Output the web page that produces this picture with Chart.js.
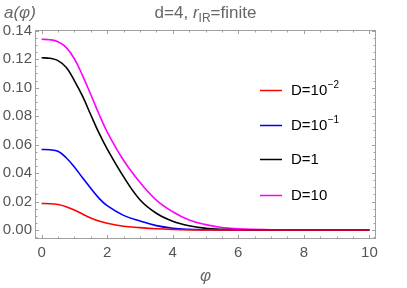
<!DOCTYPE html>
<html><head><meta charset="utf-8">
<script src="https://cdn.jsdelivr.net/npm/chart.js@4"></script>
<style>html,body{margin:0;padding:0;background:#fff}canvas{display:block}</style>
</head><body>
<canvas id="c" width="407" height="288"></canvas>
<script>
const phi     = [0, 0.25, 0.5, 0.75, 1, 1.25, 1.5, 1.75, 2, 2.5, 3, 3.5, 4, 4.5, 5, 5.5, 6, 7, 8, 9, 10];
const aD0_01  = [0.0186,0.0185,0.0179,0.0164,0.0141,0.0112,0.0085,0.0063,0.0047,0.0027,0.0017,0.0009,0.0004,0.0001,0,0,0,0,0,0,0];
const aD0_1   = [0.0566,0.0564,0.0553,0.0508,0.0443,0.0367,0.0293,0.0224,0.0171,0.0103,0.0064,0.0031,0.0013,0.0005,0.0002,0,0,0,0,0,0];
const aD1     = [0.121,0.1206,0.1190,0.1143,0.105,0.0940,0.0810,0.0682,0.0570,0.0375,0.0213,0.0118,0.0062,0.0030,0.0013,0.0005,0.0002,0,0,0,0];
const aD10    = [0.134,0.1337,0.1323,0.1283,0.1203,0.1085,0.0952,0.0815,0.0690,0.0490,0.0335,0.0210,0.0128,0.0070,0.0038,0.0018,0.0008,0.0002,0,0,0];
const xTicks  = [0, 2, 4, 6, 8, 10];
const yTicks  = [0, 0.02, 0.04, 0.06, 0.08, 0.10, 0.12, 0.14];
const seriesLabels = [['D=10','−2'], ['D=10','−1'], ['D=1',''], ['D=10','']];
const seriesColors = ['#ff0000', '#0000ff', '#000000', '#ff00ff'];
const seriesData = [aD0_01, aD0_1, aD1, aD10];

const FONT = '"Liberation Sans", Arial, sans-serif';

const extras = {
  id: 'extras',
  afterDraw(chart) {
    const {ctx, chartArea: a, scales: {x, y}} = chart;
    ctx.save();
    // frame
    ctx.strokeStyle = '#a0a0a0'; ctx.lineWidth = 1;
    ctx.strokeRect(a.left + 0.5, a.top + 0.5, a.right - a.left - 1, a.bottom - a.top - 1);
    // ticks
    ctx.beginPath();
    for (let i = 0; i <= 20; i++) {
      const v = i * 0.5;
      const px = Math.round(x.getPixelForValue(v)) + 0.5;
      const L = (i % 4 === 0) ? 4 : 2.5;
      ctx.moveTo(px, a.bottom); ctx.lineTo(px, a.bottom - L);
      ctx.moveTo(px, a.top); ctx.lineTo(px, a.top + L);
    }
    for (let i = -1; i <= 28; i++) {
      const v = i * 0.005;
      const py = Math.round(y.getPixelForValue(v)) + 0.5;
      if (py < a.top || py > a.bottom) continue;
      const L = (i % 4 === 0) ? 4 : 2.5;
      ctx.moveTo(a.left, py); ctx.lineTo(a.left + L, py);
      ctx.moveTo(a.right, py); ctx.lineTo(a.right - L, py);
    }
    ctx.stroke();

    // title
    ctx.fillStyle = '#666';
    ctx.textBaseline = 'alphabetic';
    const big = '17px ' + FONT, bigI = 'italic 17px ' + FONT, sub = '12px ' + FONT;
    const parts = [['d=4, ', big, 0], ['r', bigI, 0], ['IR', sub, 4], ['=finite', big, 0]];
    let w = 0;
    parts.forEach(p => { ctx.font = p[1]; w += ctx.measureText(p[0]).width; });
    let cx = (a.left + a.right) / 2 - w / 2;
    const ty = 18;
    parts.forEach(p => { ctx.font = p[1]; ctx.fillText(p[0], cx, ty + p[2]); cx += ctx.measureText(p[0]).width; });

    // y axis label
    ctx.font = bigI; ctx.fillStyle = '#666';
    ctx.fillText('a(φ)', 4, 18);
    // x axis label
    ctx.textAlign = 'center';
    ctx.fillText('φ', (a.left + a.right) / 2, 281);

    // legend
    ctx.textAlign = 'left';
    const rows = [90, 125, 159, 195];
    seriesLabels.forEach((lab, i) => {
      const ry = rows[i];
      ctx.strokeStyle = seriesColors[i]; ctx.lineWidth = 1.5;
      ctx.beginPath(); ctx.moveTo(260, ry + 0.5); ctx.lineTo(282, ry + 0.5); ctx.stroke();
      ctx.fillStyle = '#000';
      ctx.font = '15px ' + FONT;
      ctx.textBaseline = 'middle';
      ctx.fillText(lab[0], 291, ry + 1);
      if (lab[1]) {
        const tw = ctx.measureText(lab[0]).width;
        ctx.font = '10px ' + FONT;
        ctx.fillText(lab[1], 291 + tw + 0.5, ry - 5);
      }
    });
    ctx.restore();
  }
};

new Chart(document.getElementById('c'), {
  type: 'line',
  data: {
    datasets: seriesData.map((d, i) => ({
      label: seriesLabels[i].join(''),
      data: phi.map((p, k) => ({x: p, y: d[k]})),
      borderColor: seriesColors[i],
      borderWidth: 1.6,
      pointRadius: 0,
      fill: false,
      tension: 0.4
    }))
  },
  options: {
    responsive: false,
    animation: false,
    layout: {padding: {top: 30, right: 31, left: 0, bottom: 0}},
    plugins: {legend: {display: false}, title: {display: false}, tooltip: {enabled: false}},
    scales: {
      x: {
        type: 'linear', min: -0.2, max: 10.2,
        grid: {display: false, drawTicks: false},
        border: {display: false},
        afterBuildTicks: s => { s.ticks = xTicks.map(v => ({value: v})); },
        afterFit: s => { s.height = 49; },
        ticks: {color: '#555', font: {size: 15, family: FONT}, padding: 5, maxRotation: 0,
                callback: v => String(v)}
      },
      y: {
        type: 'linear', min: -0.0063, max: 0.1405,
        grid: {display: false, drawTicks: false},
        border: {display: false},
        afterBuildTicks: s => { s.ticks = yTicks.map(v => ({value: v})); },
        afterFit: s => { s.width = 35; },
        ticks: {color: '#555', font: {size: 15, family: FONT}, padding: 3,
                callback: v => v.toFixed(2)}
      }
    }
  },
  plugins: [extras]
});
</script>
</body></html>
